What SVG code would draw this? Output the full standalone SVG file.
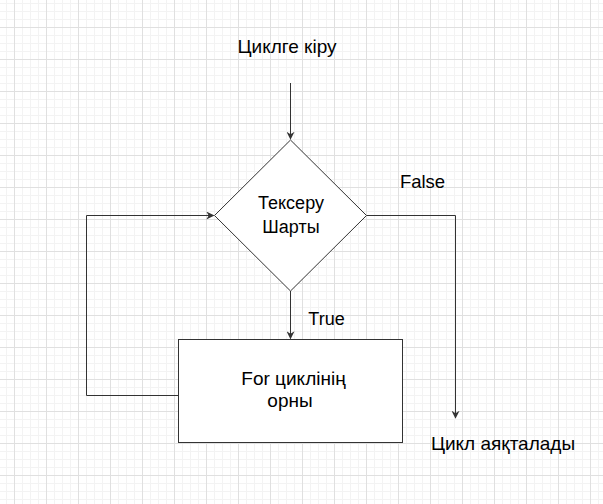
<svg xmlns="http://www.w3.org/2000/svg" width="603" height="504" viewBox="0 0 603 504">
<style>
  .t { font-family: "Liberation Sans", Arial, sans-serif; font-size: 19px; fill: #000; text-anchor: middle; }
  .s { fill: #fff; stroke: #333; stroke-width: 1; }
  .e { fill: none; stroke: #333; stroke-width: 1; }
</style>
<defs>
  <pattern id="grid" patternUnits="userSpaceOnUse" x="14" y="27" width="32" height="32">
    <path d="M8.5 0V32M16.5 0V32M24.5 0V32M0 8.5H32M0 16.5H32M0 24.5H32" stroke="#f3f3f3" stroke-width="1" fill="none"/>
    <path d="M0.5 0V32M0 0.5H32" stroke="#e0e0e0" stroke-width="1" fill="none"/>
  </pattern>
  <marker id="arr" viewBox="0 0 10 10" refX="9" refY="5" markerWidth="8" markerHeight="8" markerUnits="userSpaceOnUse" orient="auto">
    <path d="M0 0L10 5L0 10L3 5Z" fill="#333"/>
  </marker>
</defs>
<rect width="603" height="504" fill="#fff"/>
<rect width="603" height="504" fill="url(#grid)"/>

<g id="connectors">
  <path class="e" d="M290.5 83V139" marker-end="url(#arr)"/>
  <path class="e" d="M290.5 291V338.5" marker-end="url(#arr)"/>
  <path class="e" d="M183 395.5H86.5V215.5H213.5" marker-end="url(#arr)"/>
  <path class="e" d="M366.5 215.5H455.5V418" marker-end="url(#arr)"/>
</g>

<g id="start">
  <text class="t" x="287" y="53">Циклге кіру</text>
</g>

<g id="condition">
  <polygon class="s" points="290.5,140 366.5,215.5 290.5,291 214.5,215.5"/>
  <text class="t" x="291" y="209" style="font-size:18px">Тексеру</text>
  <text class="t" x="291" y="232.5" style="font-size:18px">Шарты</text>
</g>

<g id="body">
  <rect class="s" x="178.5" y="339.5" width="224" height="103"/>
  <text class="t" x="293.5" y="385">For циклінің</text>
  <text class="t" x="290" y="406.5">орны</text>
</g>

<g id="label-false">
  <text class="t" x="422.5" y="187.5" style="font-size:18.5px">False</text>
</g>

<g id="label-true">
  <text class="t" x="326.5" y="325" style="font-size:18px">True</text>
</g>

<g id="end">
  <text class="t" x="503" y="450">Цикл аяқталады</text>
</g>
</svg>
